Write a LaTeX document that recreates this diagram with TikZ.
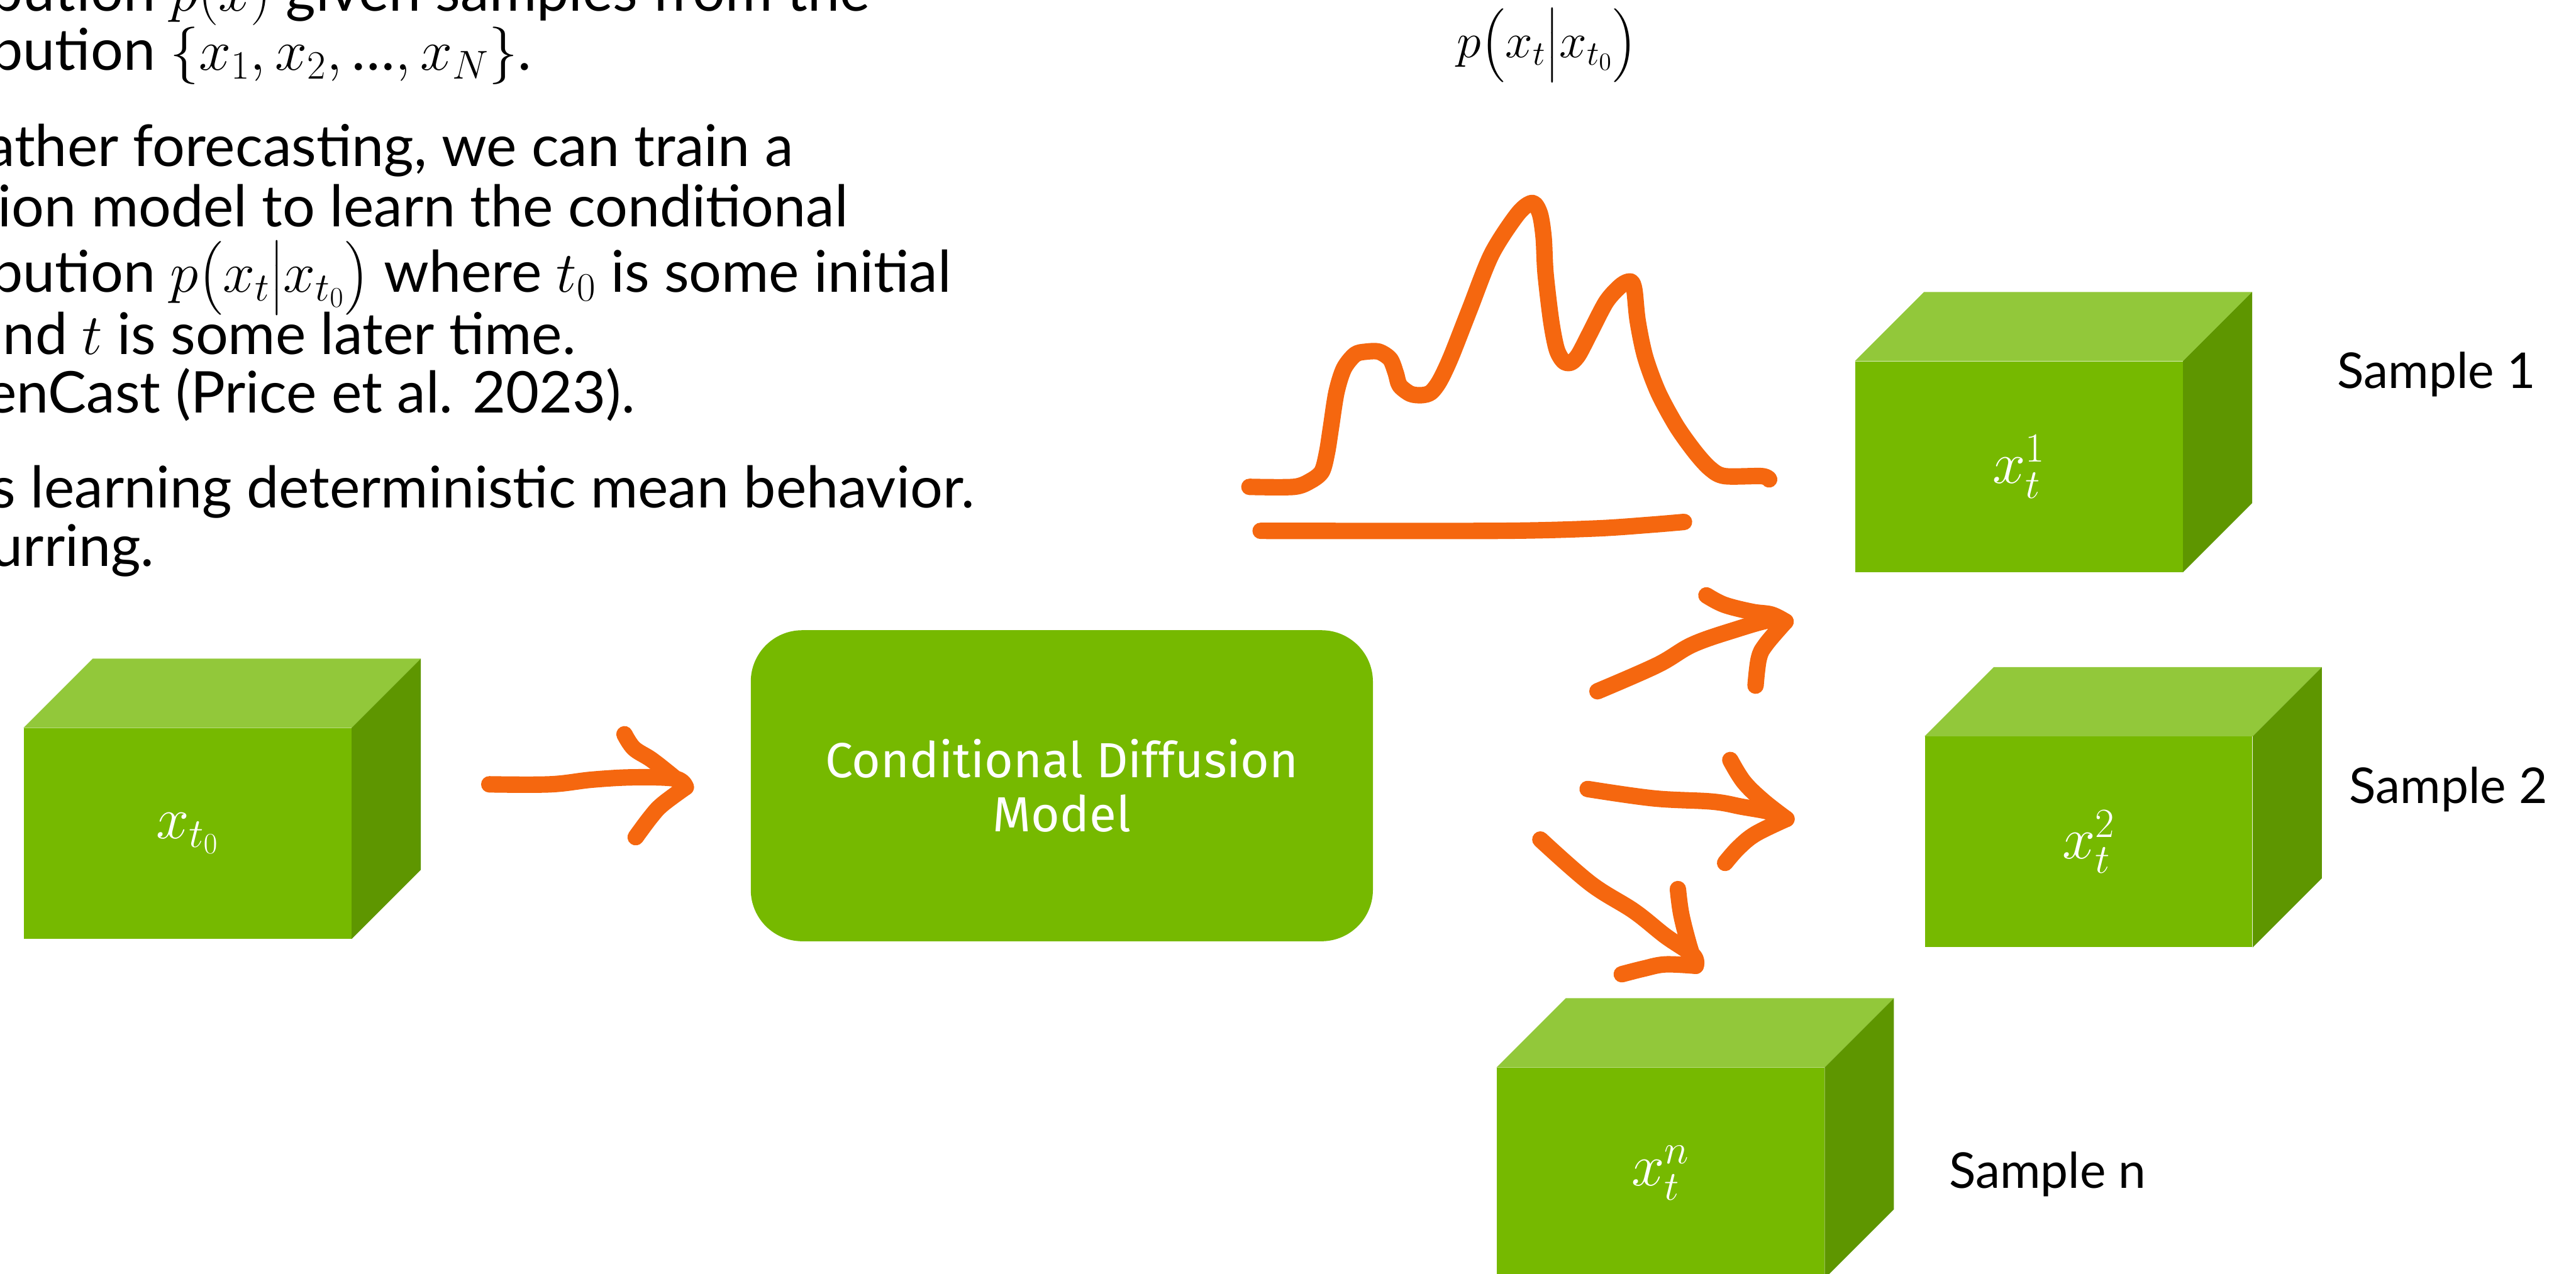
\RequirePackage{fix-cm}
\documentclass[tikz,border=0pt]{standalone}
\usepackage{amsmath}
\usepackage[no-math]{fontspec}
\setmainfont{Lato}
\newfontfamily\boxfont{Fira Sans}
\usetikzlibrary{positioning}
\definecolor{nvgreen}{HTML}{76B900}
\definecolor{nvtop}{HTML}{92C83A}
\definecolor{nvside}{HTML}{5E9600}
\definecolor{pen}{HTML}{F5670F}

\begin{document}
\begin{tikzpicture}[
  cube/.style={rectangle, fill=nvgreen, minimum width=7cm, minimum height=4.5cm,
               inner sep=0pt, text=white, font=\fontsize{36}{42}\selectfont},
  model/.style={rectangle, fill=nvgreen, rounded corners=1.1cm,
                minimum width=13.3cm, minimum height=6.65cm, text=white,
                align=center, font=\boxfont\fontsize{30}{33}\selectfont},
  body/.style={anchor=base west, inner sep=0pt, font=\fontsize{35}{42}\selectfont},
  smp/.style={anchor=base west, inner sep=0pt, font=\fontsize{30}{36}\selectfont},
  stroke/.style={draw=pen, line width=10pt, line cap=round, line join=round},
]
  \useasboundingbox (0,0) rectangle (55.07,27.23);
  \clip (0,0) rectangle (55.07,27.23);

  % text on the left, cut by the page edge
  \node[body] (t1) at (-0.20,27.00) {bution $p(x)$ given samples from the};
  \node[body] (t2) at (-0.20,25.73) {bution $\{x_1, x_2, \text{…}, x_N\}$.};
  \node[body] (t3) at (-0.30,23.68) {ather forecasting, we can train a};
  \node[body] (t4) at (-0.05,22.38) {ion model to learn the conditional};
  \node[body] (t5) at (-0.20,20.98) {bution $p\bigl(x_t\big|x_{t_0}\bigr)$ where $t_0$ is some initial};
  \node[body] (t6) at (0.06,19.65) {nd $t$ is some later time.};
  \node[body] (t7) at (-0.30,18.40) {enCast (Price et al. 2023).};
  \node[body] (t8) at (-0.20,16.37) {s learning deterministic mean behavior.};
  \node[body] (t9) at (-0.20,15.12) {urring.};

  \node[font=\fontsize{30}{36}\selectfont] (pcond) at (33.07,26.26)
    {$p\bigl(x_t\big|x_{t_0}\bigr)$};

  % boxes
  \node[cube] (c0) at (4.01,9.41) {$x_{t_0}$};
  \node[model] (cdm) at (22.70,10.43) {Conditional Diffusion\\Model};
  \node[cube] (c1) at (43.16,17.25) {$x_t^1$};
  \node[cube] (c2) at (44.65,9.23) {$x_t^2$};
  \node[cube] (cn) at (35.50,2.15) {$x_t^n$};

  \foreach \c in {c0,c1,c2,cn} {
    \fill[nvtop] (\c.north west) -- ++(1.48,1.48)
      -- ([shift={(1.48,1.48)}]\c.north east) -- (\c.north east) -- cycle;
    \fill[nvside] (\c.north east) -- ++(1.48,1.48)
      -- ([shift={(1.48,1.48)}]\c.south east) -- (\c.south east) -- cycle;
  }

  \node[smp] (l1) at (49.96,18.93) {Sample 1};
  \node[smp] (l2) at (50.22,10.06) {Sample 2};
  \node[smp] (ln) at (41.66,1.82) {Sample n};

  % hand drawn arrows
  \coordinate (a0s) at (10.46,10.46);
  \coordinate (a0t) at (14.66,10.40);
  \draw[stroke] plot[smooth, tension=0.6] coordinates
    {(a0s) (11.76,10.46) (12.66,10.56) (13.55,10.61) (14.44,10.58) (a0t)};
  \draw[stroke] plot[smooth, tension=0.6] coordinates
    {(13.35,11.53) (13.55,11.23) (13.91,11.00) (14.26,10.73) (a0t)};
  \draw[stroke] plot[smooth, tension=0.6] coordinates
    {(a0t) (14.16,10.03) (13.91,9.76) (13.59,9.33)};

  \coordinate (a1s) at (34.15,12.45);
  \coordinate (a1t) at (38.17,13.94);
  \draw[stroke] plot[smooth, tension=0.6] coordinates
    {(a1s) (35.43,13.01) (36.19,13.45) (37.11,13.77) (37.83,13.97) (a1t)};
  \draw[stroke] plot[smooth, tension=0.6] coordinates
    {(36.48,14.50) (36.86,14.30) (37.45,14.15) (37.87,14.09) (a1t)};
  \draw[stroke] plot[smooth, tension=0.6] coordinates
    {(a1t) (37.75,13.45) (37.60,13.15) (37.53,12.57)};

  \coordinate (a2s) at (33.94,10.36);
  \coordinate (a2t) at (38.19,9.72);
  \draw[stroke] plot[smooth, tension=0.6] coordinates
    {(a2s) (35.35,10.16) (36.61,10.09) (37.24,9.98) (37.83,9.87) (a2t)};
  \draw[stroke] plot[smooth, tension=0.6] coordinates
    {(36.99,10.98) (37.28,10.51) (37.70,10.10) (a2t)};
  \draw[stroke] plot[smooth, tension=0.6] coordinates
    {(a2t) (37.53,9.40) (37.16,9.10) (36.88,8.78)};

  \coordinate (ans) at (32.93,9.28);
  \coordinate (ant) at (36.25,6.58);
  \draw[stroke] plot[smooth, tension=0.6] coordinates
    {(ans) (34.00,8.34) (34.93,7.75) (35.60,7.22) (36.19,6.81) (ant)};
  \draw[stroke] plot[smooth, tension=0.6] coordinates
    {(35.87,8.22) (35.94,7.69) (36.10,7.05) (ant)};
  \draw[stroke] plot[smooth, tension=0.6] coordinates
    {(ant) (35.60,6.61) (35.14,6.52) (34.67,6.40)};

  % sketch of the distribution
  \draw[stroke] plot[smooth, tension=0.5] coordinates
    {(26.71,16.82) (27.66,16.82) (28.02,16.95) (28.26,17.15) (28.37,17.56)
     (28.45,18.07) (28.57,18.84) (28.73,19.35) (28.97,19.65) (29.20,19.71)
     (29.48,19.71) (29.72,19.55) (29.84,19.25) (29.92,18.99) (30.15,18.81)
     (30.39,18.78) (30.59,18.84) (30.78,19.09) (31.02,19.60) (31.42,20.62)
     (31.89,21.80) (32.45,22.66) (32.76,22.89) (32.92,22.66) (33.00,22.15)
     (33.04,21.39) (33.16,20.37) (33.28,19.76) (33.43,19.50) (33.59,19.48)
     (33.75,19.65) (33.99,20.11) (34.34,20.78) (34.66,21.13) (34.86,21.21)
     (34.94,21.03) (35.01,20.37) (35.17,19.60) (35.45,18.84) (35.84,18.12)
     (36.24,17.56) (36.56,17.21) (36.87,17.05) (37.66,17.05) (37.82,16.98)};
  \draw[stroke] plot[smooth, tension=0.5] coordinates
    {(26.95,15.88) (32.05,15.88) (34.10,15.93) (35.29,16.01) (36.00,16.07)};
\end{tikzpicture}
\end{document}
